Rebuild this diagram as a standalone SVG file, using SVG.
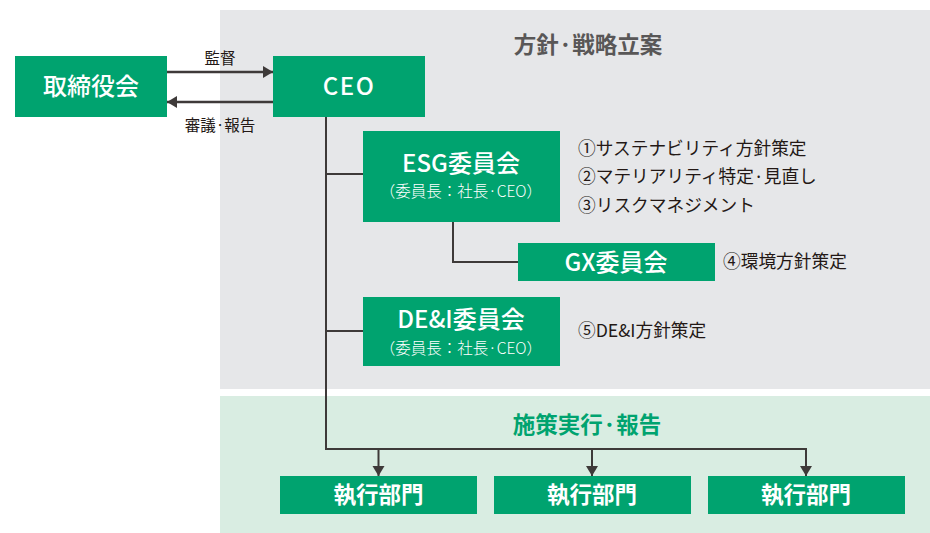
<svg xmlns="http://www.w3.org/2000/svg" width="930" height="533" viewBox="0 0 930 533">
<defs>
<marker id="ah" viewBox="0 0 10 12" refX="10" refY="6" markerWidth="10" markerHeight="12" markerUnits="userSpaceOnUse" orient="auto" style="overflow:visible">
<path d="M0,0 L10,6 L0,12 z" fill="#3e3a39"/>
</marker>
<style>
.box{fill:#00a36f}
.t{font-family:"Noto Sans CJK JP","Noto Sans",sans-serif;fill:#fff;text-anchor:middle}
.b{font-size:24px;font-weight:500}
.s{font-size:15.5px;font-weight:300}
.d{font-size:22.5px;font-weight:700}
.n{font-family:"Noto Sans CJK JP","Noto Sans",sans-serif;font-size:17.7px;fill:#231815}
.l{font-family:"Noto Sans CJK JP","Noto Sans",sans-serif;font-size:15.5px;fill:#231815;text-anchor:middle}
.h{font-family:"Noto Sans CJK JP",sans-serif;font-size:22.5px;font-weight:700;text-anchor:middle}
.ln{fill:none;stroke:#3e3a39;stroke-width:2}
</style>
</defs>
<rect x="220" y="10" width="710" height="379" fill="#e6e7e9"/>
<rect x="220" y="396" width="710" height="137" fill="#d9ede2"/>
<text class="h" x="588" y="53" fill="#595757">方針·戦略立案</text>
<text class="h" x="587" y="433" fill="#00a36f">施策実行·報告</text>
<g id="connectors">
<line class="ln" x1="167" y1="72" x2="273" y2="72" marker-end="url(#ah)" style="stroke-width:2.5"/>
<line class="ln" x1="273" y1="102" x2="167" y2="102" marker-end="url(#ah)" style="stroke-width:2.5"/>
<text class="l" x="220" y="64">監督</text>
<text class="l" x="220" y="131">審議·報告</text>
<polyline class="ln" points="326,117 326,449 807,449"/>
<line class="ln" x1="326" y1="174" x2="363" y2="174"/>
<line class="ln" x1="326" y1="331" x2="363" y2="331"/>
<polyline class="ln" points="453,222 453,262 518,262"/>
<line class="ln" x1="378.5" y1="449" x2="378.5" y2="476" marker-end="url(#ah)"/>
<line class="ln" x1="592" y1="449" x2="592" y2="476" marker-end="url(#ah)"/>
<line class="ln" x1="806" y1="448" x2="806" y2="476" marker-end="url(#ah)"/>
</g>
<g id="board"><rect class="box" x="15" y="56" width="152" height="61"/><text class="t b" x="91" y="95">取締役会</text></g>
<g id="ceo"><rect class="box" x="273" y="56" width="152" height="61"/><text class="t b" x="349" y="95" letter-spacing="1.5">CEO</text></g>
<g id="esg"><rect class="box" x="363" y="131" width="197" height="91"/><text class="t b" x="461" y="172">ESG委員会</text><text class="t s" x="461" y="197">（委員長：社長·CEO）</text></g>
<g id="gx"><rect class="box" x="518" y="243" width="197" height="38"/><text class="t b" x="616" y="271">GX委員会</text></g>
<g id="dei"><rect class="box" x="363" y="297" width="197" height="69"/><text class="t b" x="461" y="328">DE&amp;I委員会</text><text class="t s" x="461" y="354">（委員長：社長·CEO）</text></g>
<g id="dept1"><rect class="box" x="280" y="476" width="197" height="38"/><text class="t d" x="378.5" y="503">執行部門</text></g>
<g id="dept2"><rect class="box" x="494" y="476" width="197" height="38"/><text class="t d" x="592" y="503">執行部門</text></g>
<g id="dept3"><rect class="box" x="708" y="476" width="197" height="38"/><text class="t d" x="806" y="503">執行部門</text></g>
<g id="notes">
<text class="n" x="578" y="155">①サステナビリティ方針策定</text>
<text class="n" x="578" y="183">②マテリアリティ特定·見直し</text>
<text class="n" x="578" y="212">③リスクマネジメント</text>
<text class="n" x="723" y="268">④環境方針策定</text>
<text class="n" x="578" y="337">⑤DE&amp;I方針策定</text>
</g>
</svg>
